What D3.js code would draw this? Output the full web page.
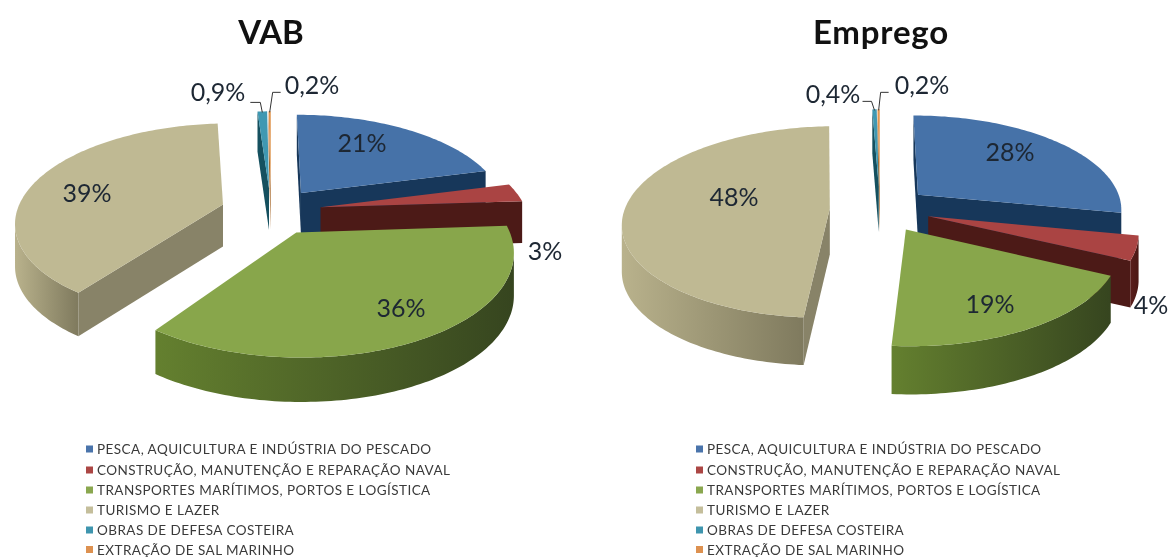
<!DOCTYPE html>
<html><head><meta charset="utf-8">
<style>html,body{margin:0;padding:0;background:#fff}svg{display:block;filter:blur(0.35px)}</style>
<script src="https://cdn.jsdelivr.net/npm/d3@7"></script></head>
<body><svg id="c" width="1168" height="558"></svg>
<script>
const categories = ["PESCA, AQUICULTURA E INDÚSTRIA DO PESCADO","CONSTRUÇÃO, MANUTENÇÃO E REPARAÇÃO NAVAL","TRANSPORTES MARÍTIMOS, PORTOS E LOGÍSTICA","TURISMO E LAZER","OBRAS DE DEFESA COSTEIRA","EXTRAÇÃO DE SAL MARINHO"];
const vabValues = [21,3,36,39,0.9,0.2];
const empregoValues = [28,4,19,48,0.4,0.2];
const vabLabels = ["21%","3%","36%","39%","0,9%","0,2%"];
const empregoLabels = ["28%","4%","19%","48%","0,4%","0,2%"];
const topColors  = ["#4672a8","#aa4443","#88a64b","#bfb993","#3f98b2","#e0954f"];
const wallLight  = ["#1c3d63","#5a1e1c","#64802f","#b9b28c","#2a7f96","#c9803c"];
const wallDark   = ["#17355a","#4a1814","#36451f","#7f7a5e","#1b5566","#a86a2e"];
const sideColors = ["#17375a","#4c1a17","#3f5222","#888368","#15505f","#a86a2e"];
const legendColors = ["#4a74ab","#ab4644","#8aa74f","#c4be9b","#3f95ae","#dd9150"];

const layouts = {
  vab: {title:"VAB", cx:271, cy:211, S:206, A:96.5, B:0.165, D:42, titleX:271, titleSpacing:0, legendX:86,
        labelX:[362,545,401,87,218,312], labelY:[142,250,307,192,91,84],
        elbow:[null,null,null,null,[-2,-9,-10],[3,-19,8]]},
  emp: {title:"Emprego", cx:880, cy:209, S:205, A:94, B:0.14, D:46, titleX:881, titleSpacing:0.8, legendX:696,
        labelX:[1010,1151,990,734,833,922], labelY:[151,304,303,196,93,84],
        elbow:[null,null,null,null,[-3,-8,-9],[2,-17,8]]}
};
const EXPLODE=0.245;
const legendY=[449,470,490,510,530,549.5];
const FONT="Lato, Carlito, 'Open Sans', sans-serif";

const svg=d3.select("#c");
const defs=svg.append("defs");
const line=d3.line();
let gid=0;

function drawPie(values,labels,L){
  const g=svg.append("g");
  const arcs=d3.pie().sort(null).startAngle(0).endAngle(2*Math.PI)(values);
  const proj=(x,y,z)=>{
    const w=1+L.B*y;
    return [L.cx+L.S*x/w, L.cy-L.A*y/w+z*L.D*Math.pow(w,-0.25)];
  };
  const parts=arcs.map((a,i)=>{
    const mid=(a.startAngle+a.endAngle)/2;
    return {i,a,mid,ox:EXPLODE*Math.sin(mid),oy:EXPLODE*Math.cos(mid)};
  });
  const rim=(p,t,z)=>proj(p.ox+Math.sin(t),p.oy+Math.cos(t),z);
  parts.slice().sort((p,q)=>q.oy-p.oy).forEach(p=>{
    const i=p.i,a0=p.a.startAngle,a1=p.a.endAngle;
    const n=Math.max(2,Math.ceil((a1-a0)/0.02));
    const ts=d3.range(n+1).map(k=>a0+(a1-a0)*k/n);
    const apexT=proj(p.ox,p.oy,0),apexB=proj(p.ox,p.oy,1);
    const r0T=rim(p,a0,0),r0B=rim(p,a0,1),r1T=rim(p,a1,0),r1B=rim(p,a1,1);
    if(r0T[0]<apexT[0]) g.append("path").attr("d",line([apexT,r0T,r0B,apexB])+"Z").attr("fill",sideColors[i]);
    if(r1T[0]>apexT[0]) g.append("path").attr("d",line([apexT,r1T,r1B,apexB])+"Z").attr("fill",sideColors[i]);
    let run=[];const runs=[];
    for(let k=0;k<n;k++){
      const u=rim(p,ts[k],0),v=rim(p,ts[k+1],0);
      if(v[0]<u[0]){ if(!run.length) run.push(ts[k]); run.push(ts[k+1]); }
      else if(run.length){runs.push(run);run=[];}
    }
    if(run.length) runs.push(run);
    runs.forEach(r=>{
      const top=r.map(t=>rim(p,t,0)),bot=r.map(t=>rim(p,t,1)).reverse();
      const xs=top.map(d=>d[0]);
      const id="w"+(gid++);
      const gr=defs.append("linearGradient").attr("id",id).attr("gradientUnits","userSpaceOnUse")
        .attr("x1",d3.min(xs)).attr("x2",d3.max(xs)).attr("y1",0).attr("y2",0);
      gr.append("stop").attr("offset","0").attr("stop-color",wallLight[i]);
      gr.append("stop").attr("offset","1").attr("stop-color",wallDark[i]);
      g.append("path").attr("d",line(top.concat(bot))+"Z").attr("fill",`url(#${id})`);
    });
    g.append("path").attr("d",line([apexT].concat(ts.map(t=>rim(p,t,0))))+"Z").attr("fill",topColors[i]);
  });
  parts.forEach(p=>{
    const e=L.elbow[p.i]; if(!e) return;
    const r=rim(p,p.mid,0);
    const ex=r[0]+e[0],ey=r[1]+e[1];
    g.append("path").attr("d",line([[r[0],r[1]+1],[ex,ey],[ex+e[2],ey]]))
      .attr("fill","none").attr("stroke","#333").attr("stroke-width",1);
  });
  g.selectAll("text.lab").data(labels).join("text").attr("class","lab")
    .attr("x",(d,i)=>L.labelX[i]).attr("y",(d,i)=>L.labelY[i])
    .attr("text-anchor","middle").attr("dominant-baseline","central")
    .attr("font-family",FONT).attr("font-size",25).attr("fill","#1d2733").text(d=>d);
  g.append("text").attr("x",L.titleX).attr("y",31).attr("text-anchor","middle").attr("dominant-baseline","central")
    .attr("font-family",FONT).attr("font-weight",700).attr("font-size",33).attr("letter-spacing",L.titleSpacing).attr("fill","#111").text(L.title);
  const lg=g.append("g");
  categories.forEach((c,i)=>{
    lg.append("rect").attr("x",L.legendX).attr("y",legendY[i]-3.5).attr("width",7).attr("height",7).attr("fill",legendColors[i]);
    lg.append("text").attr("x",L.legendX+11).attr("y",legendY[i]).attr("dominant-baseline","central")
      .attr("font-family",FONT).attr("font-size",13.5).attr("letter-spacing",0.45).attr("fill","#3a3a3a").text(c);
  });
}
drawPie(vabValues,vabLabels,layouts.vab);
drawPie(empregoValues,empregoLabels,layouts.emp);
</script></body></html>
